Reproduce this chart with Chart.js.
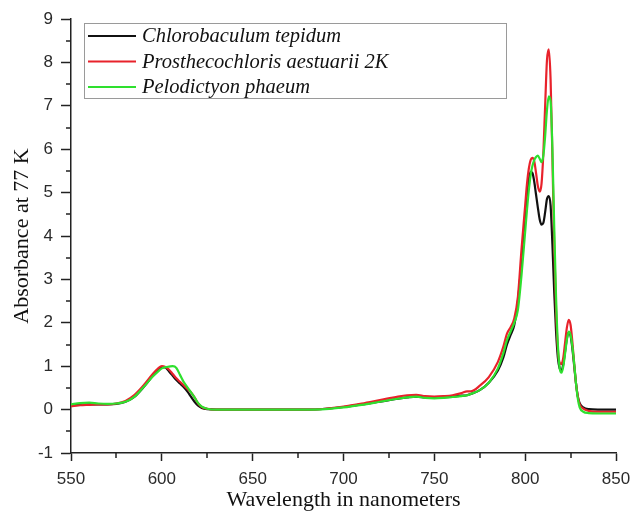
<!DOCTYPE html>
<html lang="en">
<head>
    <meta charset="utf-8">
    <title>Absorbance at 77 K</title>
    <script src="https://cdn.jsdelivr.net/npm/chart.js"></script>
    <style>
        html, body { margin: 0; padding: 0; background: #fff; }
        canvas { display: block; }
    </style>
</head>
<body>
<canvas id="specChart" width="631" height="513"></canvas>

<script>
    // wavelength grid (nm), shared by the three spectra
    const wavelengths = [550, 555, 560, 565, 570, 575, 580, 585, 590, 595, 598, 600, 602, 604, 606, 608, 610, 612, 614, 616, 618, 620, 622, 625,
        630, 640, 650, 660, 670, 680, 690, 700, 710, 720, 730, 735, 740, 745, 750, 755, 760, 765, 768, 770, 775, 780, 785, 788,
        790, 792, 794, 796, 798, 800, 801, 802, 803, 804, 805, 806, 807, 808, 809, 810, 811, 812, 813, 814, 815, 816, 817, 818,
        819, 820, 821, 822, 823, 824, 825, 826, 827, 828, 829, 830, 832, 835, 840, 845, 850]

    const tepidum = [0.10, 0.11, 0.12, 0.12, 0.12, 0.13, 0.18, 0.30, 0.52, 0.78, 0.93, 0.98, 0.97, 0.88, 0.78, 0.68, 0.60, 0.52, 0.42, 0.30, 0.18, 0.09, 0.04, 0.01,
        0.00, 0.00, 0.00, 0.00, 0.00, 0.00, 0.02, 0.06, 0.12, 0.18, 0.25, 0.28, 0.30, 0.28, 0.27, 0.28, 0.30, 0.32, 0.33, 0.36, 0.45, 0.62, 0.90, 1.20,
        1.50, 1.72, 1.95, 2.50, 3.40, 4.40, 4.90, 5.30, 5.48, 5.45, 5.25, 4.95, 4.65, 4.38, 4.26, 4.30, 4.55, 4.85, 4.92, 4.70, 3.80, 2.70, 1.80, 1.20,
        0.95, 0.90, 1.05, 1.35, 1.65, 1.78, 1.70, 1.40, 1.00, 0.60, 0.30, 0.15, 0.05, 0.01, 0.00, 0.00, 0.00]

    const aestuarii = [0.08, 0.10, 0.11, 0.12, 0.12, 0.14, 0.20, 0.34, 0.56, 0.82, 0.95, 1.00, 0.98, 0.92, 0.82, 0.72, 0.64, 0.56, 0.48, 0.40, 0.28, 0.14, 0.06, 0.02,
        0.00, 0.00, 0.00, 0.00, 0.00, 0.00, 0.02, 0.07, 0.14, 0.22, 0.30, 0.33, 0.34, 0.31, 0.30, 0.31, 0.33, 0.38, 0.42, 0.42, 0.55, 0.75, 1.10, 1.45,
        1.75, 1.90, 2.10, 2.60, 3.70, 4.70, 5.20, 5.55, 5.75, 5.80, 5.72, 5.45, 5.15, 5.02, 5.20, 5.90, 7.00, 8.05, 8.30, 7.60, 5.80, 3.80, 2.30, 1.40,
        1.08, 1.05, 1.20, 1.55, 1.90, 2.07, 1.95, 1.55, 1.05, 0.60, 0.30, 0.12, 0.02, -0.03, -0.05, -0.05, -0.05]

    const phaeum = [0.12, 0.15, 0.16, 0.14, 0.13, 0.14, 0.18, 0.30, 0.52, 0.76, 0.88, 0.95, 0.98, 0.99, 1.00, 0.96, 0.80, 0.64, 0.52, 0.40, 0.28, 0.15, 0.07, 0.02,
        0.00, 0.00, 0.00, 0.00, 0.00, 0.00, 0.01, 0.05, 0.11, 0.18, 0.25, 0.28, 0.30, 0.27, 0.26, 0.27, 0.29, 0.31, 0.33, 0.36, 0.45, 0.62, 0.95, 1.30,
        1.60, 1.80, 2.00, 2.30, 3.10, 4.10, 4.60, 5.05, 5.40, 5.62, 5.75, 5.82, 5.85, 5.78, 5.70, 5.85, 6.30, 6.90, 7.22, 7.10, 6.00, 4.20, 2.60, 1.50,
        0.95, 0.85, 1.00, 1.30, 1.62, 1.80, 1.72, 1.45, 1.05, 0.60, 0.25, 0.05, -0.05, -0.08, -0.09, -0.09, -0.09]

    const seriesNames = ['Chlorobaculum tepidum', 'Prosthecochloris aestuarii 2K', 'Pelodictyon phaeum']
    const seriesColors = ['#111111', '#e8222b', '#2ee02e']

    function toPoints(values) {
        return wavelengths.map((w, i) => ({x: w, y: values[i]}))
    }

    // short minor ticks halfway between the labelled ones
    const minorTicks = {
        id: 'minorTicks',
        afterDraw(chart) {
            const ctx = chart.ctx
            const xs = chart.scales.x
            const ys = chart.scales.y
            ctx.save()
            ctx.strokeStyle = '#222'
            ctx.lineWidth = 1.5
            ctx.beginPath()
            for (let v = 575; v < 850; v += 50) {
                const px = Math.round(xs.getPixelForValue(v))
                ctx.moveTo(px, ys.bottom)
                ctx.lineTo(px, ys.bottom + 5)
            }
            for (let v = -0.5; v < 9; v += 1) {
                const py = Math.round(ys.getPixelForValue(v))
                ctx.moveTo(xs.left, py)
                ctx.lineTo(xs.left - 5, py)
            }
            ctx.stroke()
            ctx.restore()
        }
    }

    // boxed legend in the upper left of the plot
    const boxLegend = {
        id: 'boxLegend',
        afterDraw(chart) {
            const ctx = chart.ctx
            ctx.save()
            ctx.strokeStyle = '#9a9a9a'
            ctx.lineWidth = 1
            ctx.strokeRect(84.5, 23.5, 422, 75)
            ctx.font = 'italic 20.5px "Liberation Serif", "Times New Roman", serif'
            ctx.textBaseline = 'middle'
            chart.data.datasets.forEach((ds, i) => {
                const y = 36 + i * 25.5
                ctx.strokeStyle = ds.borderColor
                ctx.lineWidth = 2
                ctx.beginPath()
                ctx.moveTo(88, y)
                ctx.lineTo(136, y)
                ctx.stroke()
                ctx.fillStyle = '#111'
                ctx.fillText(ds.label, 142, y + 1)
            })
            ctx.restore()
        }
    }

    const specCanvas = document.getElementById('specChart')

    const specChart = new Chart(specCanvas, {
        type: 'line',
        data: {
            datasets: [
                {label: seriesNames[0], data: toPoints(tepidum), borderColor: seriesColors[0], order: 3},
                {label: seriesNames[1], data: toPoints(aestuarii), borderColor: seriesColors[1], order: 2},
                {label: seriesNames[2], data: toPoints(phaeum), borderColor: seriesColors[2], order: 1}
            ]
        },
        options: {
            responsive: false,
            animation: false,
            layout: {padding: {top: 19, right: 15, left: 0, bottom: 0}},
            elements: {
                line: {borderWidth: 2.2, cubicInterpolationMode: 'monotone', fill: false},
                point: {radius: 0}
            },
            plugins: {
                legend: {display: false},
                tooltip: {enabled: false}
            },
            scales: {
                x: {
                    type: 'linear',
                    min: 550,
                    max: 850,
                    afterFit(scale) {
                        scale.height = 60
                        scale.paddingLeft = 0
                        scale.paddingRight = 0
                    },
                    border: {display: true, color: '#222', width: 1.5},
                    grid: {drawOnChartArea: false, drawTicks: true, tickLength: 8, tickColor: '#222', tickWidth: 1.5},
                    ticks: {
                        stepSize: 50,
                        padding: 8,
                        color: '#2a2a2a',
                        maxRotation: 0,
                        font: {family: '"Liberation Sans", Arial, sans-serif', size: 17}
                    },
                    title: {
                        display: true,
                        text: 'Wavelength in nanometers',
                        color: '#111',
                        padding: {top: 0, bottom: 0},
                        font: {family: '"Liberation Serif", "Times New Roman", serif', size: 22}
                    }
                },
                y: {
                    min: -1,
                    max: 9,
                    afterFit(scale) {
                        scale.width = 71
                        scale.paddingTop = 0
                        scale.paddingBottom = 0
                    },
                    border: {display: true, color: '#222', width: 1.5},
                    grid: {drawOnChartArea: false, drawTicks: true, tickLength: 10, tickColor: '#222', tickWidth: 1.5},
                    ticks: {
                        stepSize: 1,
                        padding: 8,
                        color: '#2a2a2a',
                        font: {family: '"Liberation Sans", Arial, sans-serif', size: 17}
                    },
                    title: {
                        display: true,
                        text: 'Absorbance at 77 K',
                        color: '#111',
                        padding: {top: 9, bottom: 0},
                        font: {family: '"Liberation Serif", "Times New Roman", serif', size: 22}
                    }
                }
            }
        },
        plugins: [minorTicks, boxLegend]
    })
</script>
</body>
</html>
